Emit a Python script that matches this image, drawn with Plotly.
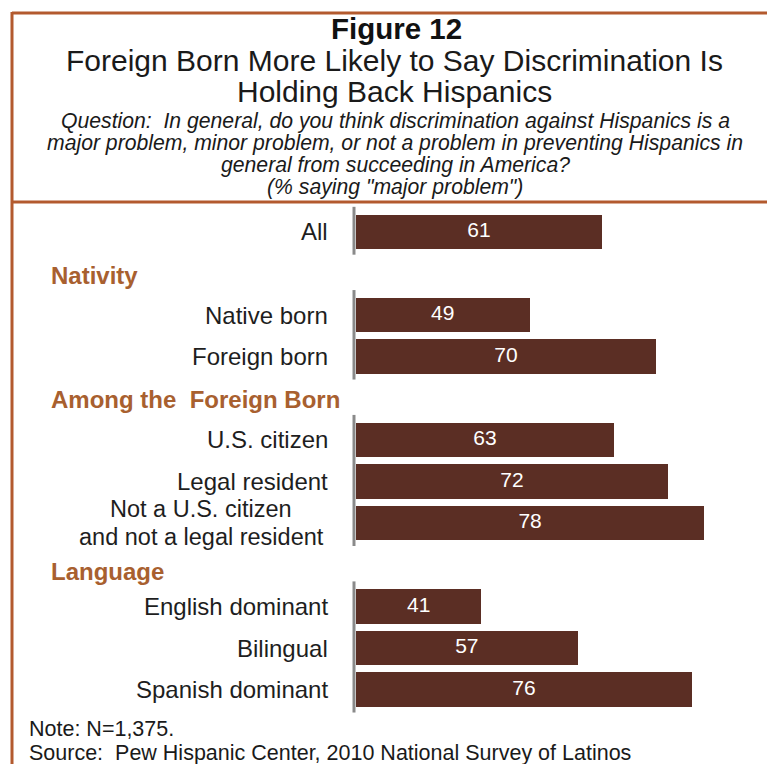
import plotly.graph_objects as go

# ---------------- data ----------------
categories = [
    "All",
    "Native born",
    "Foreign born",
    "U.S. citizen",
    "Legal resident",
    "Not a U.S. citizen<br>and not a legal resident",
    "English dominant",
    "Bilingual",
    "Spanish dominant",
]
values = [61, 49, 70, 63, 72, 78, 41, 57, 76]
groups = [
    "",
    "Nativity",
    "Nativity",
    "Among the\u00a0 Foreign Born",
    "Among the\u00a0 Foreign Born",
    "Among the\u00a0 Foreign Born",
    "Language",
    "Language",
    "Language",
]

title_fig = "Figure 12"
title_lines = [
    "Foreign Born More Likely to Say Discrimination Is",
    "Holding Back Hispanics",
]
question_lines = [
    "Question:\u00a0 In general, do you think discrimination against Hispanics is a",
    "major problem, minor problem, or not a problem in preventing Hispanics in",
    "general from succeeding in America?",
    "(% saying \"major problem\")",
]
note_text = "Note: N=1,375."
source_text = "Source:\u00a0 Pew Hispanic Center, 2010 National Survey of Latinos"

# ---------------- layout helpers ----------------
W, H = 767, 764
L_MARGIN = 356
FONT = "Liberation Sans, Arial, sans-serif"
BAR_COLOR = "#5B2E24"
ACCENT = "#B35A2E"
HEADER_COLOR = "#A8602F"
TEXT_COLOR = "#1E1E1E"

X_RANGE = [20.18, 88.44]
Y_RANGE = [12.787, -5.569]


def px(p):
    return (p - L_MARGIN) / (W - L_MARGIN)


def py(p):
    return 1 - p / H


# slot positions: header rows inserted between groups
slots = []
header_slots = []
group_spans = []
s = 0
prev = None
for g in groups:
    if g != prev:
        if g:
            header_slots.append((g, s))
            s += 1
        group_spans.append([s, s])
        prev = g
    slots.append(s)
    group_spans[-1][1] = s
    s += 1

fig = go.Figure()
fig.add_trace(go.Bar(
    x=values, y=slots, orientation="h",
    marker=dict(color=BAR_COLOR, line=dict(width=0)),
    width=0.83, hoverinfo="x+text", hovertext=[c.replace("<br>", " ") for c in categories],
    showlegend=False,
))
fig.add_trace(go.Scatter(
    x=[(X_RANGE[0] + v) / 2 for v in values], y=slots,
    mode="text", text=[str(v) for v in values],
    textfont=dict(family=FONT, size=21, color="white"),
    textposition="middle center", hoverinfo="skip", showlegend=False,
))

annotations = []
LABEL_FONT = dict(family=FONT, size=24, color=TEXT_COLOR)
# category labels
for c, sl in zip(categories, slots):
    parts = c.split("<br>")
    if len(parts) == 1:
        annotations.append(dict(
            x=px(330), y=sl, xref="paper", yref="y", text=c, showarrow=False,
            xanchor="right", yanchor="middle", font=LABEL_FONT,
        ))
    else:
        n = len(parts)
        for i, part in enumerate(parts):
            annotations.append(dict(
                x=px(201), y=sl + (i - (n - 1) / 2) * 0.68, xref="paper", yref="y",
                text=part, showarrow=False, xanchor="center", yanchor="middle",
                font=dict(family=FONT, size=23.5, color=TEXT_COLOR),
            ))
# group headers
header_offsets = {"Nativity": 0.05, "Among the\u00a0 Foreign Born": 0.03, "Language": 0.17}
for g, sl in header_slots:
    annotations.append(dict(
        x=px(49), y=sl + header_offsets.get(g, 0), xref="paper", yref="y",
        text="<b>" + g + "</b>", showarrow=False, xanchor="left", yanchor="middle",
        font=dict(family=FONT, size=24, color=HEADER_COLOR),
    ))
# titles
annotations.append(dict(
    x=px(396), y=py(28.5), xref="paper", yref="paper", text="<b>" + title_fig + "</b>",
    showarrow=False, xanchor="center", yanchor="middle",
    font=dict(family=FONT, size=29.5, color="#111111"),
))
for t, yy in zip(title_lines, [60, 91.5]):
    annotations.append(dict(
        x=px(394), y=py(yy), xref="paper", yref="paper", text=t,
        showarrow=False, xanchor="center", yanchor="middle",
        font=dict(family=FONT, size=30, color="#1A1A1A"),
    ))
for t, yy in zip(question_lines, [121, 143, 165, 187]):
    annotations.append(dict(
        x=px(395), y=py(yy), xref="paper", yref="paper", text="<i>" + t + "</i>",
        showarrow=False, xanchor="center", yanchor="middle",
        font=dict(family=FONT, size=21.2, color="#1A1A1A"),
    ))
for t, yy in zip([note_text, source_text], [729, 753]):
    annotations.append(dict(
        x=px(27), y=py(yy), xref="paper", yref="paper", text=t,
        showarrow=False, xanchor="left", yanchor="middle",
        font=dict(family=FONT, size=21.5, color="#1A1A1A"),
    ))

shapes = []
# frame lines
shapes.append(dict(type="line", xref="paper", yref="paper", x0=px(12), x1=px(767),
                   y0=py(13), y1=py(13), line=dict(color=ACCENT, width=3)))
shapes.append(dict(type="line", xref="paper", yref="paper", x0=px(12), x1=px(12),
                   y0=py(12), y1=py(764), line=dict(color=ACCENT, width=3)))
shapes.append(dict(type="line", xref="paper", yref="paper", x0=px(12), x1=px(767),
                   y0=py(202), y1=py(202), line=dict(color=ACCENT, width=3)))
# axis segments per group
for a, b in group_spans:
    shapes.append(dict(type="line", xref="paper", yref="y", x0=px(354), x1=px(354),
                       y0=a - 0.6, y1=b + 0.55, line=dict(color="#8A8A8A", width=3)))

fig.update_layout(
    width=W, height=H,
    margin=dict(l=L_MARGIN, r=0, t=0, b=0),
    paper_bgcolor="white", plot_bgcolor="white",
    xaxis=dict(range=X_RANGE, visible=False, fixedrange=True),
    yaxis=dict(range=Y_RANGE, visible=False, fixedrange=True),
    annotations=annotations, shapes=shapes,
    font=dict(family=FONT),
    bargap=0,
)

fig.write_html("out.html")
